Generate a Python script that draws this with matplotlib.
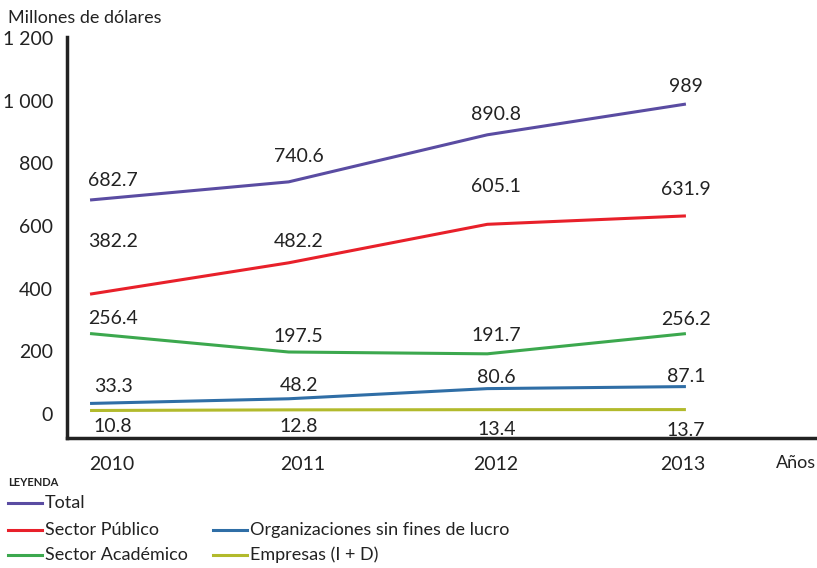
import matplotlib.pyplot as plt
from matplotlib.lines import Line2D
from matplotlib.ticker import FuncFormatter
from matplotlib.transforms import ScaledTranslation

plt.rcParams['font.family'] = ['Lato', 'DejaVu Sans']

years = [2010, 2011, 2012, 2013]
series_names = ["Total", "Sector Público", "Sector Académico",
                "Organizaciones sin fines de lucro", "Empresas (I + D)"]
total = [682.7, 740.6, 890.8, 989]
publico = [382.2, 482.2, 605.1, 631.9]
academico = [256.4, 197.5, 191.7, 256.2]
org_sin_fines = [33.3, 48.2, 80.6, 87.1]
empresas = [10.8, 12.8, 13.4, 13.7]
y_ticks = [0, 200, 400, 600, 800, 1000, 1200]

values = [total, publico, academico, org_sin_fines, empresas]
colors = ["#5a4ca2", "#e8202a", "#3ca84e", "#2f6ea6", "#b2ba2c"]

# label offsets in pixels (dx per year, dy per series/year)
dx = [23, 10, 9, 0]
dy = [[20, 25, 20, 18],
      [53, 21, 38, 26],
      [15, 16, 18, 14],
      [17, 13, 11, 10],
      [-16, -17, -20, -21]]
xlab_dx = [22, 14, 8, -3]

fig = plt.figure(figsize=(8.17, 5.68), dpi=100)
ax = fig.add_axes([67/817, 1-438/568, 1-67/817, (438-37)/568])

for i, vals in enumerate(values):
    ax.plot(years, vals, color=colors[i], linewidth=2.2, solid_capstyle='butt')
    for j, v in enumerate(vals):
        ax.annotate(f"{v:g}", (years[j], v), xytext=(dx[j], dy[i][j]),
                    textcoords='offset pixels', ha='center', va='center',
                    fontsize=14, color='#222222')

ax.set_xlim(2009.884, 2013.66)
ax.set_ylim(-77, 1203)
ax.set_xticks(years)
ax.set_yticks(y_ticks)
ax.yaxis.set_major_formatter(FuncFormatter(lambda v, p: f"{int(v):,}".replace(",", " ")))
ax.tick_params(length=0, labelsize=14, colors='#222222')
ax.tick_params(axis='y', pad=10)
ax.tick_params(axis='x', pad=13)
for lab, off in zip(ax.get_xticklabels(), xlab_dx):
    lab.set_transform(lab.get_transform() + ScaledTranslation(off/100, 0, fig.dpi_scale_trans))
for s in ['top', 'right']:
    ax.spines[s].set_visible(False)
for s in ['left', 'bottom']:
    ax.spines[s].set_linewidth(2.5)
    ax.spines[s].set_color('#222222')

fig.text(8/817, 1-18/568, "Millones de dólares", fontsize=13, va='center', ha='left', color='#222222')
fig.text(816/817, 1-463/568, "Años", fontsize=13, va='center', ha='right', color='#222222')

# legend
fig.text(8/817, 1-482/568, "LEYENDA", fontsize=8, fontweight='bold', va='center', color='#222222')
legend_pos = [(8, 503), (8, 530), (8, 555), (213, 530), (213, 555)]
for name, c, (lx, ly) in zip(series_names, colors, legend_pos):
    yy = 1 - ly/568
    fig.add_artist(Line2D([lx/817, (lx+34)/817], [yy, yy], color=c, linewidth=2.2))
    fig.text((lx+37)/817, yy, name, fontsize=13, va='center', ha='left', color='#222222')

fig.savefig('out.png', dpi=100)
